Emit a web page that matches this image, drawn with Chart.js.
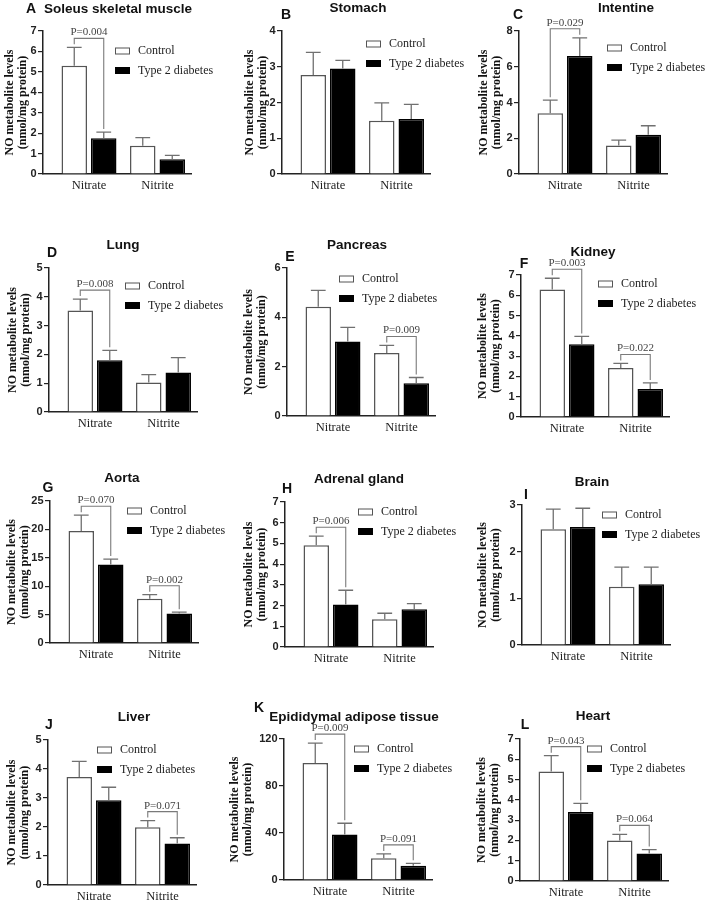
<!DOCTYPE html>
<html>
<head>
<meta charset="utf-8">
<title>NO metabolite levels in tissues</title>
<script src="https://cdn.jsdelivr.net/npm/chart.js@4.4.1/dist/chart.umd.min.js"></script>
<style>
  html, body { margin: 0; padding: 0; background: #fff; }
  #fig { position: relative; width: 708px; height: 903px; overflow: hidden; }
  #fig canvas { position: absolute; }
</style>
</head>
<body>
<div id="fig"></div>
<script>
// data (mean and upper error, nmol/mg protein)
const categories = ['Nitrate', 'Nitrite'];
const groups = ['Control', 'Type 2 diabetes'];
const letters = ['A', 'B', 'C', 'D', 'E', 'F', 'G', 'H', 'I', 'J', 'K', 'L'];
const tissues = ['Soleus skeletal muscle', 'Stomach', 'Intentine', 'Lung', 'Pancreas', 'Kidney',
                 'Aorta', 'Adrenal gland', 'Brain', 'Liver', 'Epididymal adipose tissue', 'Heart'];
const yTitle = ['NO metabolite levels', '(nmol/mg protein)'];

const controlMean = [[5.3, 1.38], [2.77, 1.49], [3.4, 1.6], [3.52, 1.02], [4.43, 2.55], [6.29, 2.42],
                     [19.7, 7.8], [4.91, 1.34], [2.48, 1.25], [3.72, 1.99], [99.5, 18.5], [5.4, 2.0]];
const controlSem = [[0.9, 0.4], [0.63, 0.5], [0.73, 0.3], [0.4, 0.28], [0.66, 0.31], [0.55, 0.22],
                    [2.8, 0.7], [0.44, 0.29], [0.43, 0.42], [0.54, 0.23], [17, 3.7], [0.78, 0.3]];
const diabetesMean = [[1.75, 0.72], [2.95, 1.54], [6.6, 2.2], [1.8, 1.37], [3.02, 1.33], [3.59, 1.38],
                      [13.8, 5.2], [2.05, 1.82], [2.53, 1.3], [2.92, 1.43], [38.7, 12.2], [3.4, 1.35]];
const diabetesSem = [[0.3, 0.19], [0.23, 0.41], [1.02, 0.5], [0.34, 0.52], [0.57, 0.23], [0.38, 0.3],
                     [0.98, 0.23], [0.69, 0.27], [0.4, 0.37], [0.45, 0.2], [9.6, 2.0], [0.43, 0.2]];
const pLabels = [['P=0.004', null], [null, null], ['P=0.029', null], ['P=0.008', null],
                 [null, 'P=0.009'], ['P=0.003', 'P=0.022'], ['P=0.070', 'P=0.002'], ['P=0.006', null],
                 [null, null], [null, 'P=0.071'], ['P=0.009', 'P=0.091'], ['P=0.043', 'P=0.064']];
const yMax = [7, 4, 8, 5, 6, 7, 25, 7, 3, 5, 120, 7];
const yStep = [1, 1, 2, 1, 2, 1, 5, 1, 1, 1, 40, 1];

// page placement of each panel (pixels)
const colX = [0, 226, 470], colW = [236, 244, 238];
const rowY = [0, 220, 440, 670], rowH = [220, 220, 230, 233];
const plotW = 148;
const titleLine = 13;
const panels = [
  {ax: 43,  top: 31,  bot: 174, tx: 10,  head: [75, -22],  letter: [-12, -22], legend: [72, 20]},
  {ax: 282, top: 31,  bot: 174, tx: 250, head: [76, -23],  letter: [4, -16],   legend: [84, 13]},
  {ax: 519, top: 31,  bot: 174, tx: 484, head: [107, -23], letter: [-1, -16],  legend: [88, 17]},
  {ax: 49,  top: 268, bot: 412, tx: 13,  head: [74, -23],  letter: [3, -15],   legend: [76, 18]},
  {ax: 287, top: 268, bot: 416, tx: 249, head: [70, -23],  letter: [3, -11],   legend: [52, 11]},
  {ax: 521, top: 275, bot: 417, tx: 483, head: [72, -23],  letter: [3, -11],   legend: [77, 9]},
  {ax: 50,  top: 501, bot: 643, tx: 12,  head: [72, -23],  letter: [-2, -13],  legend: [77, 10]},
  {ax: 285, top: 502, bot: 647, tx: 249, head: [74, -23],  letter: [2, -13],   legend: [73, 10]},
  {ax: 522, top: 505, bot: 645, tx: 483, head: [70, -23],  letter: [4, -10],   legend: [80, 10]},
  {ax: 48,  top: 740, bot: 885, tx: 12,  head: [86, -23],  letter: [1, -15],   legend: [49, 10]},
  {ax: 284, top: 739, bot: 880, tx: 235, head: [70, -22],  letter: [-25, -31], legend: [70, 10]},
  {ax: 520, top: 739, bot: 881, tx: 482, head: [73, -23],  letter: [5, -14],   legend: [67, 10]}
];

// upward error bars with caps
const errorBars = {
  id: 'errorBars',
  afterDatasetsDraw(chart) {
    const ctx = chart.ctx, y = chart.scales.y;
    ctx.save();
    ctx.strokeStyle = '#707070';
    ctx.lineWidth = 1.3;
    chart.data.datasets.forEach((ds, di) => {
      chart.getDatasetMeta(di).data.forEach((bar, k) => {
        const top = y.getPixelForValue(ds.data[k].y + ds.sem[k]);
        const half = bar.width * 0.29;
        ctx.beginPath();
        ctx.moveTo(bar.x, bar.y);
        ctx.lineTo(bar.x, top);
        ctx.moveTo(bar.x - half, top);
        ctx.lineTo(bar.x + half, top);
        ctx.stroke();
      });
    });
    ctx.restore();
  }
};

// P value brackets between control and diabetes bars
const brackets = {
  id: 'brackets',
  afterDatasetsDraw(chart, args, opts) {
    const ctx = chart.ctx, y = chart.scales.y;
    const sets = chart.data.datasets;
    ctx.save();
    ctx.strokeStyle = '#7a7a7a';
    ctx.lineWidth = 1.1;
    ctx.fillStyle = '#444';
    ctx.font = '11px "Liberation Serif"';
    ctx.textAlign = 'center';
    ctx.textBaseline = 'bottom';
    opts.labels.forEach((label, k) => {
      if (!label) return;
      const ends = sets.map((ds, di) => {
        const bar = chart.getDatasetMeta(di).data[k];
        return {x: bar.x, y: y.getPixelForValue(ds.data[k].y + ds.sem[k])};
      });
      const level = Math.min(ends[0].y, ends[1].y) - 9;
      ctx.beginPath();
      ctx.moveTo(ends[0].x, ends[0].y - 3);
      ctx.lineTo(ends[0].x, level);
      ctx.lineTo(ends[1].x, level);
      ctx.lineTo(ends[1].x, ends[1].y - 3);
      ctx.stroke();
      ctx.fillText(label, (ends[0].x + ends[1].x) / 2, level - 0.5);
    });
    ctx.restore();
  }
};

// legend with small boxes inside the plot
const boxLegend = {
  id: 'boxLegend',
  afterDraw(chart, args, opts) {
    const ctx = chart.ctx, area = chart.chartArea;
    ctx.save();
    ctx.font = '12px "Liberation Serif"';
    ctx.textAlign = 'left';
    ctx.textBaseline = 'middle';
    chart.data.datasets.forEach((ds, i) => {
      const x = area.left + opts.at[0];
      const yy = area.top + opts.at[1] + i * 19.5;
      ctx.fillStyle = ds.backgroundColor;
      ctx.fillRect(x, yy - 3.5, 15, 7);
      ctx.strokeStyle = ds.borderColor;
      ctx.lineWidth = 1;
      ctx.strokeRect(x + 0.5, yy - 3, 14, 6);
      ctx.fillStyle = '#222';
      ctx.fillText(ds.label, x + 23, yy);
    });
    ctx.restore();
  }
};

// panel letter and tissue name
const panelHead = {
  id: 'panelHead',
  afterDraw(chart, args, opts) {
    const ctx = chart.ctx, area = chart.chartArea;
    ctx.save();
    ctx.fillStyle = '#111';
    ctx.textAlign = 'center';
    ctx.textBaseline = 'middle';
    ctx.font = 'bold 14px "Liberation Sans"';
    ctx.fillText(opts.letter, area.left + opts.letterAt[0], area.top + opts.letterAt[1]);
    ctx.font = 'bold 13.5px "Liberation Sans"';
    ctx.fillText(opts.text, area.left + opts.textAt[0], area.top + opts.textAt[1]);
    ctx.restore();
  }
};

const fig = document.getElementById('fig');

panels.forEach((p, i) => {
  const col = i % 3, row = Math.floor(i / 3);
  const cx = colX[col], cy = rowY[row], cw = colW[col], ch = rowH[row];
  const yW = p.ax - p.tx + titleLine / 2;
  // place the x range so the two groups sit like in the figure
  const unit = 68.5;
  const xmin = 1 - 46 / unit;
  const xmax = xmin + plotW / unit;

  const canvas = document.createElement('canvas');
  canvas.width = cw;
  canvas.height = ch;
  canvas.style.left = cx + 'px';
  canvas.style.top = cy + 'px';
  fig.appendChild(canvas);

  new Chart(canvas, {
    type: 'bar',
    data: {
      datasets: [
        {
          label: groups[0],
          data: categories.map((c, k) => ({x: k + 1, y: controlMean[i][k]})),
          sem: controlSem[i],
          backgroundColor: '#ffffff',
          borderColor: '#555555',
          borderWidth: 1.5,
          categoryPercentage: 0.861,
          barPercentage: 0.864
        },
        {
          label: groups[1],
          data: categories.map((c, k) => ({x: k + 1, y: diabetesMean[i][k]})),
          sem: diabetesSem[i],
          backgroundColor: '#000000',
          borderColor: '#000000',
          borderWidth: 1.5,
          categoryPercentage: 0.861,
          barPercentage: 0.864
        }
      ]
    },
    options: {
      responsive: false,
      animation: false,
      devicePixelRatio: 1,
      layout: {
        padding: {
          left: p.ax - yW - cx,
          top: p.top - cy,
          right: cx + cw - (p.ax + plotW),
          bottom: cy + ch - p.bot - 16
        }
      },
      plugins: {
        legend: {display: false},
        tooltip: {enabled: false},
        brackets: {labels: pLabels[i]},
        boxLegend: {at: p.legend},
        panelHead: {letter: letters[i], text: tissues[i], letterAt: p.letter, textAt: p.head}
      },
      scales: {
        x: {
          type: 'linear',
          min: xmin,
          max: xmax,
          offset: false,
          bounds: 'data',
          grid: {display: false, drawTicks: false},
          border: {color: '#222', width: 1.5},
          ticks: {
            font: {family: 'Liberation Serif', size: 12.5},
            color: '#222',
            padding: 4,
            maxRotation: 0,
            autoSkip: false,
            callback: v => categories[v - 1] || ''
          },
          afterBuildTicks: s => { s.ticks = categories.map((c, k) => ({value: k + 1})); },
          afterFit: s => { s.height = 16; }
        },
        y: {
          min: 0,
          max: yMax[i],
          ticks: {
            stepSize: yStep[i],
            font: {family: 'Liberation Sans', size: 11, weight: 'bold'},
            color: '#222',
            padding: 1.5
          },
          grid: {drawOnChartArea: false, tickLength: 5, color: '#222', lineWidth: 1.2},
          border: {color: '#222', width: 1.5},
          title: {
            display: true,
            text: yTitle,
            font: {family: 'Liberation Serif', size: 12, weight: 'bold', lineHeight: titleLine / 12},
            color: '#111',
            padding: {top: 0, bottom: 0}
          },
          afterFit: s => { s.width = yW; }
        }
      }
    },
    plugins: [errorBars, brackets, boxLegend, panelHead]
  });
});
</script>
</body>
</html>
